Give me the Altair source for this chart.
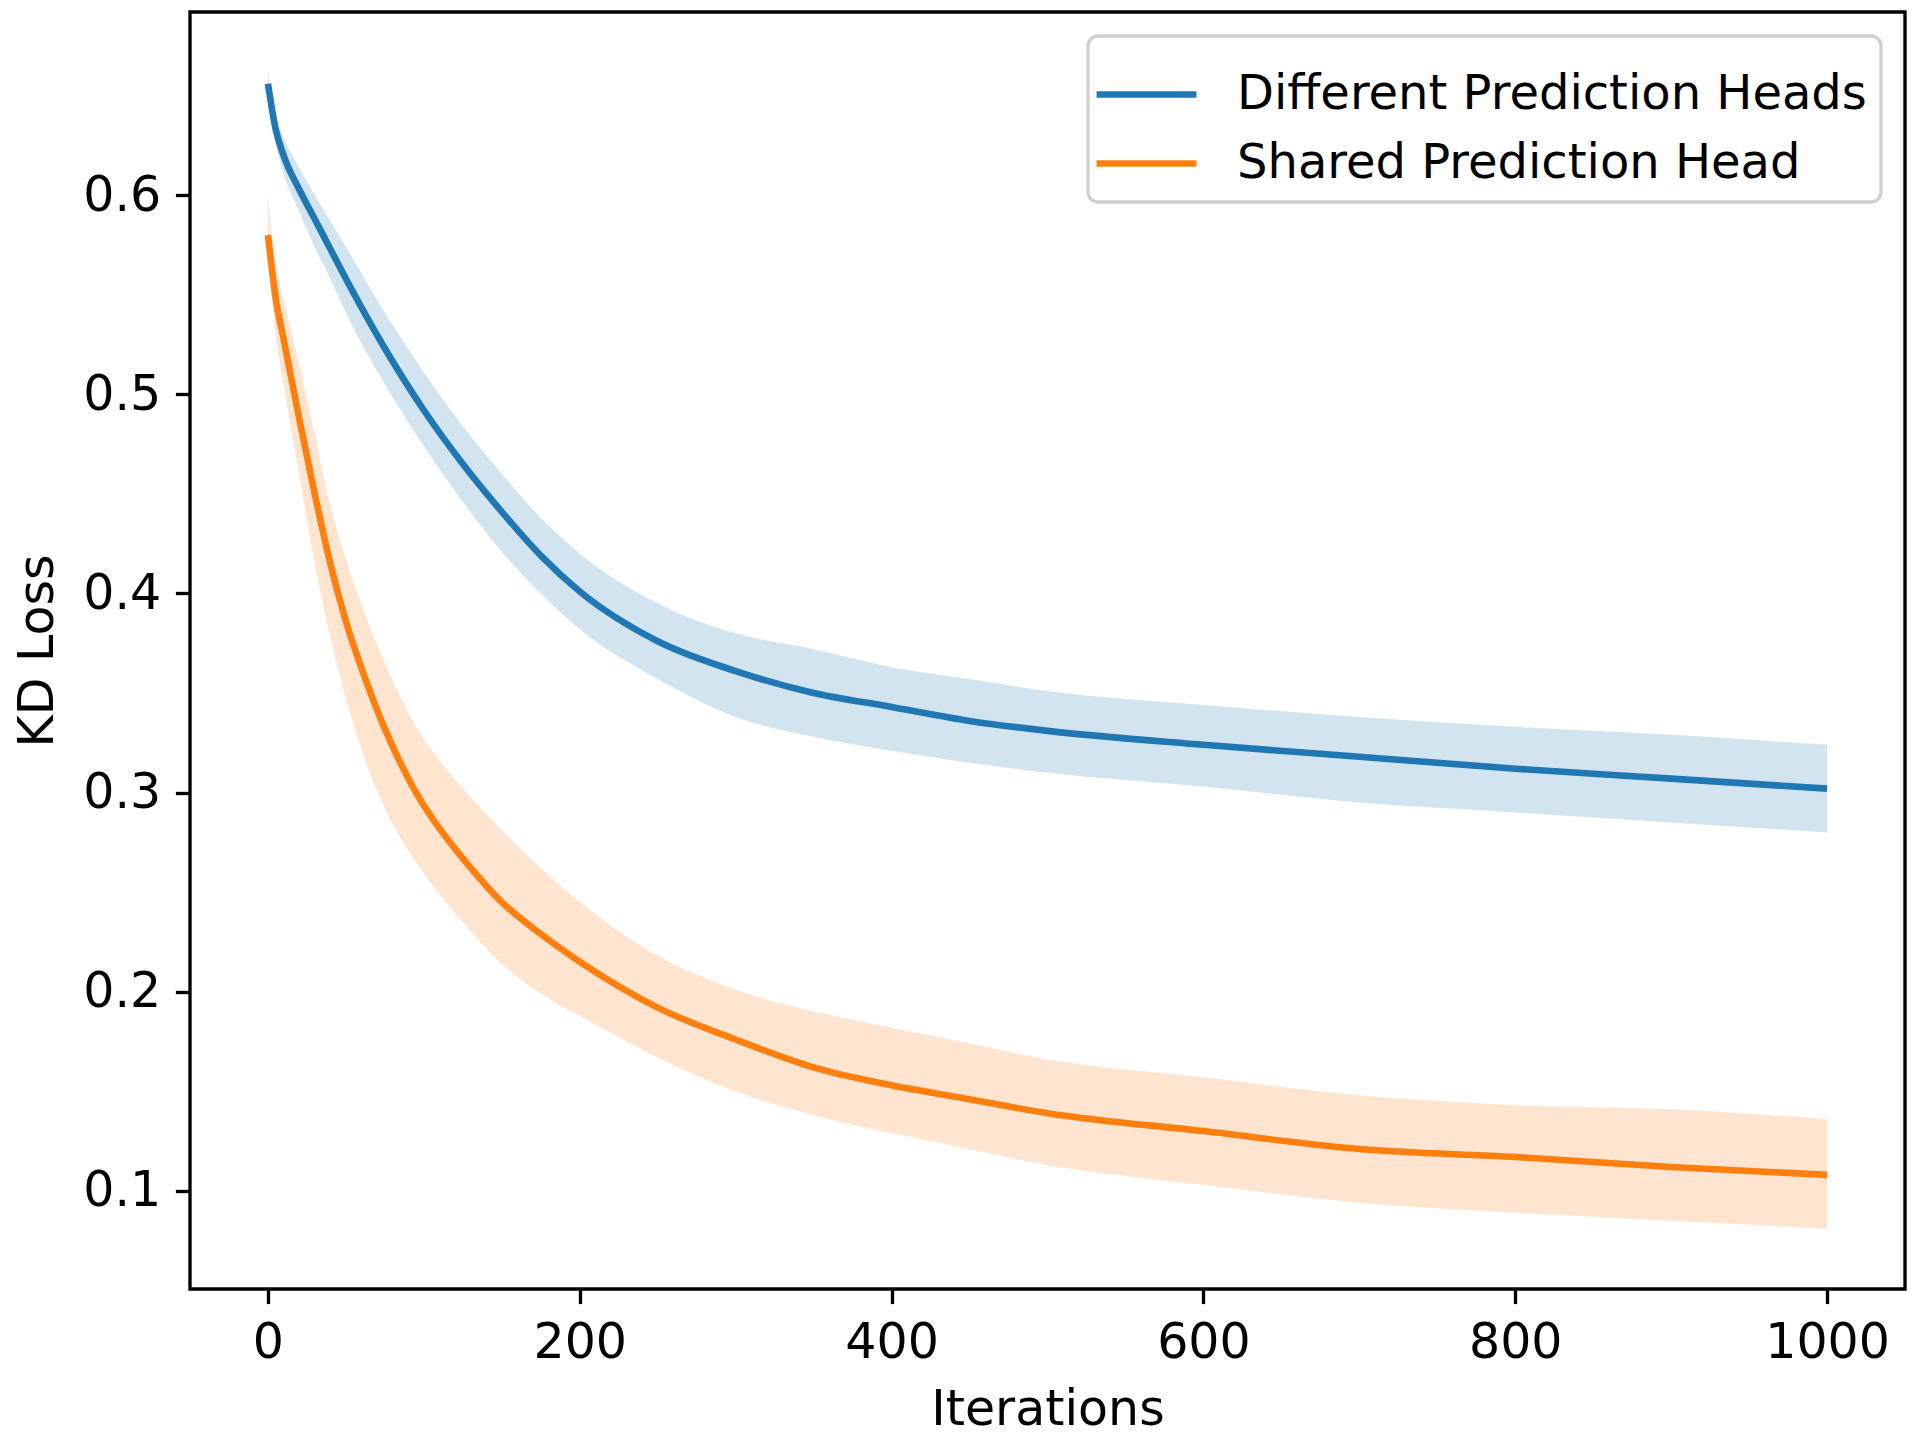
import altair as alt
import pandas as pd

series_names = ["Different Prediction Heads", "Shared Prediction Head"]
series_colors = ["#1f77b4", "#ff7f0e"]

# Different Prediction Heads
iter_a = [0, 5, 10, 20, 30, 40, 50, 75, 100, 125, 150, 175, 200, 250, 300, 350, 400, 450, 500, 600, 700, 800, 900, 1000]
mean_a = [0.656, 0.633, 0.620, 0.603, 0.588, 0.573, 0.558, 0.523, 0.492, 0.465, 0.441, 0.419, 0.401, 0.376, 0.361, 0.350, 0.343, 0.336, 0.331, 0.324, 0.318, 0.312, 0.307, 0.302]
lo_a = [0.650, 0.626, 0.611, 0.592, 0.574, 0.558, 0.541, 0.505, 0.474, 0.446, 0.421, 0.400, 0.382, 0.357, 0.338, 0.328, 0.321, 0.315, 0.310, 0.303, 0.295, 0.290, 0.285, 0.280]
hi_a = [0.662, 0.640, 0.629, 0.614, 0.600, 0.587, 0.574, 0.541, 0.511, 0.484, 0.460, 0.438, 0.420, 0.395, 0.380, 0.372, 0.363, 0.357, 0.351, 0.344, 0.338, 0.333, 0.329, 0.324]

# Shared Prediction Head
iter_b = [0, 5, 10, 20, 30, 40, 50, 63, 75, 95, 110, 125, 150, 175, 200, 250, 300, 350, 400, 450, 500, 600, 700, 800, 900, 1000]
mean_b = [0.580, 0.548, 0.528, 0.488, 0.450, 0.415, 0.386, 0.356, 0.332, 0.300, 0.282, 0.267, 0.245, 0.229, 0.215, 0.192, 0.176, 0.162, 0.153, 0.146, 0.139, 0.130, 0.121, 0.117, 0.112, 0.108]
lo_b = [0.570, 0.530, 0.505, 0.460, 0.415, 0.378, 0.347, 0.315, 0.292, 0.265, 0.249, 0.235, 0.214, 0.199, 0.188, 0.167, 0.150, 0.138, 0.129, 0.121, 0.113, 0.103, 0.094, 0.089, 0.085, 0.081]
hi_b = [0.600, 0.565, 0.548, 0.515, 0.480, 0.444, 0.417, 0.388, 0.365, 0.333, 0.316, 0.302, 0.281, 0.262, 0.245, 0.218, 0.201, 0.190, 0.182, 0.174, 0.166, 0.157, 0.148, 0.143, 0.141, 0.136]

x_ticks = [0, 200, 400, 600, 800, 1000]
y_ticks = [0.1, 0.2, 0.3, 0.4, 0.5, 0.6]

rows = []
for it, m, lo, hi in zip(iter_a, mean_a, lo_a, hi_a):
    rows.append({"series": series_names[0], "iter": it, "mean": m, "lo": lo, "hi": hi})
for it, m, lo, hi in zip(iter_b, mean_b, lo_b, hi_b):
    rows.append({"series": series_names[1], "iter": it, "mean": m, "lo": lo, "hi": hi})
df = pd.DataFrame(rows)

FS = 49
LFS = 48
color_scale = alt.Scale(domain=series_names, range=series_colors)
x_enc = alt.X(
    "iter:Q",
    scale=alt.Scale(domain=[-50, 1050], nice=False, zero=False),
    axis=alt.Axis(values=x_ticks, format="d", title="Iterations", grid=False, domain=False,
                  tickSize=14.6, tickWidth=3.33, tickColor="black",
                  labelPadding=14.6, labelFontSize=FS, titleFontSize=FS,
                  labelFont="DejaVu Sans", titleFont="DejaVu Sans",
                  titleFontWeight="normal", labelColor="black", titleColor="black",
                  titlePadding=18, labelFlush=False),
)
y_axis = alt.Axis(values=y_ticks, format=".1f", title="KD Loss", grid=False, domain=False,
                  tickSize=14.6, tickWidth=3.33, tickColor="black",
                  labelPadding=14.6, labelFontSize=FS, titleFontSize=FS,
                  labelFont="DejaVu Sans", titleFont="DejaVu Sans",
                  titleFontWeight="normal", labelColor="black", titleColor="black",
                  titlePadding=20, labelFlush=False)
y_scale = alt.Scale(domain=[0.0507, 0.692], nice=False, zero=False)

band = alt.Chart(df).mark_area(opacity=0.2, interpolate="monotone").encode(
    x=x_enc,
    y=alt.Y("lo:Q", scale=y_scale, axis=y_axis),
    y2="hi:Q",
    color=alt.Color("series:N", scale=color_scale, legend=None),
    detail="series:N",
)

line = alt.Chart(df).mark_line(strokeWidth=6.6, interpolate="monotone").encode(
    x=x_enc,
    y=alt.Y("mean:Q", scale=y_scale, axis=y_axis),
    color=alt.Color(
        "series:N", scale=color_scale, sort=series_names,
        legend=alt.Legend(
            title=None, orient="top-right", offset=24,
            symbolType="M-1.22,0H1.22", symbolStrokeWidth=6.6, symbolSize=6700,
            labelFontSize=LFS, labelFont="DejaVu Sans", labelColor="black",
            labelOffset=46, labelLimit=2000, rowPadding=0,
            fillColor="white", strokeColor="#d0d0d0",
            cornerRadius=10, padding=14,
        ),
    ),
)

chart = alt.layer(band, line).resolve_legend(color="independent").properties(
    width=1715, height=1277,
    autosize=alt.AutoSizeParams(type="none"),
    padding={"left": 182, "top": 4, "right": 8, "bottom": 150},
    background="white",
).configure_view(stroke="black", strokeWidth=3.33).configure_legend(
    strokeWidth=3.3
)

chart.save("out.html", embed_options={"renderer": "svg", "actions": False})
